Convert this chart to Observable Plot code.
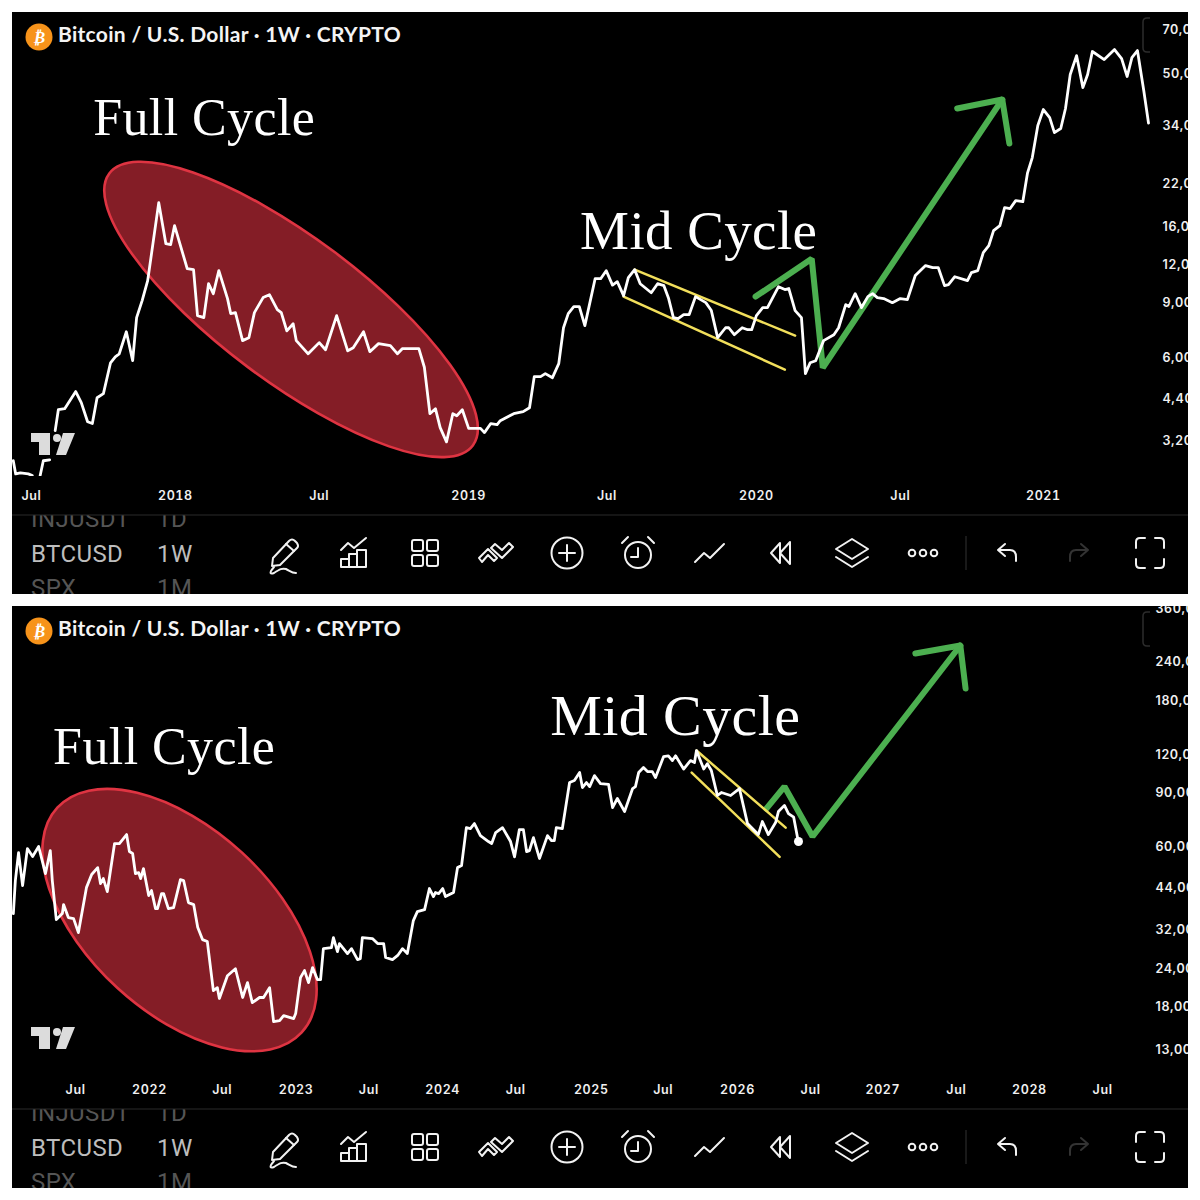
<!DOCTYPE html>
<html><head><meta charset="utf-8">
<script src="https://cdn.jsdelivr.net/npm/d3@7"></script>
<script src="https://cdn.jsdelivr.net/npm/@observablehq/plot@0.6"></script>
<style>
html,body{margin:0;padding:0;background:#fff;width:1200px;height:1200px;overflow:hidden}
.panel{position:absolute;left:12px;width:1176px;height:582px;background:#000}
.big text{letter-spacing:.4px}
.ax text{letter-spacing:.6px}
</style></head><body>
<div id="top" class="panel" style="top:12px"></div>
<div id="bottom" class="panel" style="top:606px"></div>
<script>
// ---- top panel: Jul 2017 – early 2021 (days since 2017-07-01, USD) ----
const topStart = "2017-07-01";
const topDays = [-23,-20,-14,-4,1,6,11,15,23,26,30,34,42,56,63,71,77,83,91,100,106,111,120,128,133,140,147,161,170,176,181,197,205,210,218,224,230,237,248,252,258,267,275,282,293,301,311,316,323,331,335,350,364,372,386,400,407,420,428,439,454,463,469,490,497,504,511,517,525,533,538,545,553,568,573,581,589,593,610,622,630,636,644,650,659,667,673,679,686,693,700,713,720,727,735,741,749,755,763,770,784,792,800,806,812,818,825,832,840,853,860,868,878,882,889,899,906,911,917,925,931,945,953,958,966,974,979,985,992,1002,1015,1021,1030,1034,1042,1050,1058,1064,1070,1078,1089,1099,1108,1118,1131,1140,1147,1155,1160,1168,1184,1189,1197,1204,1211,1217,1225,1231,1238,1245,1254,1260,1266,1273,1280,1288,1294,1302,1308,1314,1322,1330,1336,1342,1357,1370,1379,1386,1392,1399,1407,1413];
const topPrices = [2770,2510,2530,2510,2480,null,2480,2770,2790,null,3470,4060,4090,4650,4280,3710,3660,4440,4580,5770,6035,6170,7280,5860,8090,9190,10670,19140,14080,13970,16120,11680,11590,8210,8090,10430,9680,11500,9330,8340,8400,6810,6960,8400,9400,9610,8590,8400,7330,7730,6810,6170,6710,6360,8210,6310,6456,7280,6270,6660,6560,6170,6410,6410,5580,3940,4090,3550,3190,3940,3880,4060,3530,3530,3420,3660,3630,3740,3940,4000,4120,5200,5200,5320,5160,5730,7500,8340,8790,8790,7620,10830,10830,11500,10320,10590,9540,10910,11590,10430,9750,10430,10280,9330,8090,8030,8280,8280,9470,9050,8530,6960,7500,7500,7120,7500,7390,7390,8210,8720,8720,10200,9980,10060,8530,8090,5320,5770,5860,6810,7120,7500,8920,8790,9680,8720,9470,9680,9400,9330,9050,9330,9260,11090,11950,11770,11770,10280,10360,10990,10670,11330,11500,13160,13880,15520,16120,18450,18310,19430,19280,23930,26830,34100,38440,36200,32350,33340,38730,50000,57580,45300,50000,59360,55900,60260,56320,49230,56740,59810,44320,34750];
const topDomainDays = [-24,1463.6];
const topDomainPrices = [1017.3,79507];
const topTickDates = ["2017-07-01","2017-12-30","2018-06-30","2019-01-05","2019-06-29","2020-01-04","2020-07-04","2021-01-01"];
const topTickLabels = ["Jul","2018","Jul","2019","Jul","2020","Jul","2021"];
const topPriceTicks = [70000,50000,34000,22000,16000,12000,9000,6000,4400,3200];
const topYellowA = [[763,11590],[966,7070]];
const topYellowB = [[749,9470],[953,5480]];
const topGreen = [[916,9470],[987,12580],[1001,5560],[1228,41430]];
const topHead = [[1171,38730],[1228,41430],[1237,29800]];
const topEllipse = {day:329,price:8570,a:227,b:72,rot:36.8};
const topFull = {day:78,price:31850};
const topMid = {day:694,price:13560};

// ---- bottom panel: 2021 – 2028 (days since 2022-01-01, USD) ----
const botStart = "2022-01-01";
const botDays = [-339,-334,-326,-316,-304,-291,-276,-259,-247,-242,-232,-217,-214,-202,-189,-177,-157,-144,-129,-122,-115,-105,-87,-75,-57,-50,-42,-35,-27,-22,-15,-2,5,15,20,30,35,47,60,77,85,97,110,120,132,144,159,169,174,194,214,232,244,256,274,284,299,309,324,334,359,364,376,386,396,406,418,426,433,453,458,468,473,493,503,518,525,530,555,568,583,588,605,618,630,642,657,667,685,697,707,712,720,730,737,757,767,777,789,799,809,824,844,852,862,879,899,909,921,931,939,946,956,971,991,1001,1008,1013,1028,1046,1058,1071,1078,1088,1096,1108,1123,1143,1153,1165,1183,1203,1210,1218,1230,1240,1252,1260,1280,1292,1302,1310,1330,1347,1357,1362,1380,1389,1399,1414,1424,1447,1469,1489,1516,1526,1541,1559,1566,1581,1591,1604,1614];
const botPrices = [36330,46570,57490,44850,59240,55800,60140,49090,58360,46570,34730,36330,38880,35250,34990,31490,44160,48730,51330,45520,47280,42880,61520,61520,65800,57920,57060,49090,49460,47280,50970,41600,43200,37720,37720,42240,42240,37720,38000,46920,46570,39470,38880,32770,29880,29440,20360,20820,19190,22760,24000,19330,21620,18600,19330,19330,20820,16130,16250,16870,16500,17130,22450,23670,21620,24200,22120,22120,27920,28130,30340,27310,29000,26900,27920,25710,25900,30340,30110,29000,29000,26110,25710,26520,27920,26900,34470,36890,37440,43860,41290,42560,42240,43860,41290,42560,51330,52110,69340,68860,71490,65300,62450,61520,66820,69340,62450,55660,68330,68330,57920,58360,64340,55000,65300,62920,62920,69340,68860,97330,98800,104950,93700,97330,94400,102500,96600,96000,80650,86300,78260,93000,94400,104900,108900,105700,105700,101000,118250,119000,114800,119000,107700,114800,113100,123800,107700,112100,106500,88300,90300,88300,93000,71490,65800,72590,65800,72050,78260,81960,77080,75000,63870];
const botLast = [1616,62450];
const botDomainDays = [-341.1,2587.1];
const botDomainPrices = [4598,365660];
const botTickDates = ["2021-07-01","2022-01-01","2022-07-01","2023-01-01","2023-07-01","2024-01-01","2024-07-01","2025-01-05","2025-07-03","2026-01-04","2026-07-05","2027-01-01","2027-07-03","2028-01-01","2028-07-01"];
const botTickLabels = ["Jul","2022","Jul","2023","Jul","2024","Jul","2025","Jul","2026","Jul","2027","Jul","2028","Jul"];
const botPriceTicks = [360000,240000,180000,120000,90000,60000,44000,32000,24000,18000,13000];
const botYellowA = [[1362,123800],[1584,69340]];
const botYellowB = [[1350,104900],[1569,55660]];
const botGreen = [[1536,80000],[1581,94400],[1651,64880],[2019,272700]];
const botHead = [[1907,256800],[2019,272700],[2032,197400]];
const botEllipse = {day:76,price:34470,a:166,b:92,rot:42.6};
const botFull = {day:-240,price:112200};
const botMid = {day:998,price:139650};

const titleText = "Bitcoin / U.S. Dollar · 1W · CRYPTO";
const rowNames = ["INJUSDT","BTCUSD","SPX"];
const rowFrames = ["1D","1W","1M"];

const COL = {white:"#ffffff",green:"#4caf50",yellow:"#f2df5b",fill:"#841d26",edge:"#df3442"};

// chrome of the TradingView screen: coordinates are those of the top panel on the page
function chrome(){
  const ico=(cx,body,extra="")=>`<g transform="translate(${cx},553)" fill="none" stroke="#f2f2f2" stroke-width="2" stroke-linejoin="round" stroke-linecap="round" ${extra}>${body}</g>`;
  const t=(x,y,s,size,fill,w=400,fam="Roboto")=>`<text x="${x}" y="${y}" text-anchor="start" font-family="${fam}" font-size="${size}" font-weight="${w}" letter-spacing=".4" fill="${fill}">${s}</text>`;
  return `
  <circle cx="39" cy="37" r="13.5" fill="#f7931a"/>
  <text x="39" y="43" text-anchor="middle" font-family="DejaVu Sans" font-size="17" font-weight="700" font-style="italic" fill="#fff">₿</text>
  <text x="58" y="42" text-anchor="start" font-family="Lato" font-size="21" font-weight="700" letter-spacing=".3" fill="#f4f4f4">${titleText}</text>
  <path d="M1150,18H1147Q1143,18 1143,22V48Q1143,52 1147,52H1150" fill="none" stroke="#2c2c2c" stroke-width="1.5"/>
  <g fill="#dcdcdc"><path d="M31,433H50V455H39V442H31Z"/><circle cx="57" cy="438" r="4"/><path d="M63,433H75L66,455H56Z"/></g>
  ${t(31,527,rowNames[0],24,"#555")}${t(157,527,rowFrames[0],24,"#555")}
  <rect x="0" y="476" width="1200" height="39" fill="#000"/>
  <line x1="0" x2="1200" y1="515" y2="515" stroke="#2b2b2b" stroke-width="1.2"/>
  ${t(31,562,rowNames[1],24,"#bdbdbd")}${t(157,562,rowFrames[1],24,"#bdbdbd")}
  ${t(31,596,rowNames[2],24,"#555")}${t(157,596,rowFrames[2],24,"#555")}
  ${ico(284,`<path d="M-11,5L5,-12Q8,-15 11,-12L13,-10Q15,-7 13,-5L-4,12L-12,13Z"/><path d="M2,-9L10,-2"/><path d="M-10,15C-16,22 -13,22 -10,21C-4,17 -2,16 2,17C6,19 8,21 12,21" transform="translate(0,-1)"/>`)}
  ${ico(354,`<path d="M-13,14V6H-5V14ZM-5,14V1H3V14ZM3,14V-3H12V14ZM-13,14H12"/><path d="M-13,-3L-6,-10L0,-5L12,-15"/>`)}
  ${ico(425,`<rect x="-13" y="-13" width="11" height="11" rx="2"/><rect x="2" y="-13" width="11" height="11" rx="2"/><rect x="-13" y="2" width="11" height="11" rx="2"/><rect x="2" y="2" width="11" height="11" rx="2"/>`)}
  ${ico(496,`<path d="M-17,5L-8,-4L1,5L-2,8L-8,2L-14,9Z"/><path d="M-5,-5L-1,-9L6,-3L13,-10L17,-6L6,5Z"/>`)}
  ${ico(567,`<circle r="15.5"/><path d="M-8,0H8M0,-8V8"/>`)}
  ${ico(638,`<circle cy="2" r="13"/><path d="M0,-5V4H-7M-16,-10L-10,-16M16,-10L10,-16"/>`)}
  ${ico(710,`<path d="M-15,9L-6,0L0,5L14,-9"/>`)}
  ${ico(781,`<path d="M-10,0L-1,-10V10ZM-1,0L9,-11V11Z"/>`)}
  ${ico(852,`<path d="M0,-14L16,-4L0,6L-16,-4ZM-16,4L0,14L16,4"/>`)}
  ${ico(923,`<circle cx="-11" r="3.3"/><circle r="3.3"/><circle cx="11" r="3.3"/>`)}
  <line x1="966" x2="966" y1="536" y2="570" stroke="#2b2b2b" stroke-width="1.2"/>
  ${ico(1007,`<path d="M-2,-9L-9,-3L-2,3M-9,-3H3Q9,-3 9,4V8"/>`)}
  ${ico(1079,`<path d="M2,-9L9,-3L2,3M9,-3H-3Q-9,-3 -9,4V8"/>`,'style="stroke:#333"')}
  ${ico(1150,`<path d="M-14,-5V-11Q-14,-15 -10,-15H-5M5,-15H10Q14,-15 14,-11V-5M14,6V11Q14,15 10,15H5M-5,15H-10Q-14,15 -14,11V6"/>`)}
  `;
}

function panel(sel,cfg){
  const base=new Date(cfg.start+"T00:00:00Z").getTime();
  const D=d=>new Date(base+d*864e5);
  const pts=cfg.days.map((d,i)=>({date:D(d),price:cfg.prices[i]}));
  const seg=a=>a.map(([d,p])=>({date:D(d),price:p}));
  const tickDates=cfg.tickDates.map(s=>new Date(s+"T00:00:00Z"));
  const tickName=new Map(tickDates.map((d,i)=>[+d,cfg.tickLabels[i]]));
  const e=cfg.ellipse;
  const ln=(a,o)=>Plot.line(seg(a),{x:"date",y:"price",...o});
  const fmt=d3.format(",");
  const chart=Plot.plot({
    width:1176,height:582,
    marginLeft:0,marginRight:0,marginTop:0,marginBottom:0,
    style:{background:"#000",color:"#fff",fontFamily:"Inter",fontSize:"12.5px",fontWeight:"600"},
    x:{type:"utc",domain:cfg.domainDays.map(D),range:[0,1176]},
    y:{type:"log",domain:cfg.domainPrices,range:[582,0],axis:null},
    marks:[
      (i,{x,y})=>{const cx=x(D(e.day)),cy=y(e.price);
        return d3.create("svg:ellipse").attr("cx",cx).attr("cy",cy).attr("rx",e.a).attr("ry",e.b)
          .attr("transform",`rotate(${e.rot},${cx},${cy})`).attr("fill",COL.fill).attr("stroke",COL.edge).attr("stroke-width",2.6).node();},
      ln(cfg.green,{stroke:COL.green,strokeWidth:6,strokeLinejoin:"miter",strokeLinecap:"round"}),
      ln(cfg.head,{stroke:COL.green,strokeWidth:6,strokeLinejoin:"miter",strokeLinecap:"round"}),
      ln(cfg.yellowA,{stroke:COL.yellow,strokeWidth:2.5}),
      ln(cfg.yellowB,{stroke:COL.yellow,strokeWidth:2.5}),
      Plot.line(pts,{x:"date",y:"price",stroke:COL.white,strokeWidth:2.8,strokeLinejoin:"round"}),
      ...(cfg.last?[Plot.dot([{date:D(cfg.last[0]),price:cfg.last[1]}],{x:"date",y:"price",r:4.5,fill:COL.white})]:[]),
      ()=>d3.create("svg:g").attr("transform","translate(-12,-12)").html(chrome()).node(),
      Plot.text(["Full Cycle"],{x:D(cfg.full.day),y:cfg.full.price,text:d=>d,textAnchor:"start",lineAnchor:"bottom",fontSize:52,fontFamily:"Liberation Serif",fontWeight:400,fill:"#fff",className:"big"}),
      Plot.text(["Mid Cycle"],{x:D(cfg.mid.day),y:cfg.mid.price,text:d=>d,textAnchor:"start",lineAnchor:"bottom",fontSize:cfg.midSize,fontFamily:"Liberation Serif",fontWeight:400,fill:"#fff",className:"big"}),
      Plot.axisX({anchor:"bottom",ticks:tickDates,tickFormat:d=>tickName.get(+d),tickSize:0,tickPadding:0,dy:-103,label:null,color:"#f0f0f0",className:"ax"}),
      Plot.text(cfg.priceTicks,{y:d=>d,text:d=>fmt(d),frameAnchor:"right",textAnchor:"start",dx:cfg.ylabelDx,fill:"#f0f0f0",className:"ax"})
    ]
  });
  document.querySelector(sel).appendChild(chart);
}

panel("#top",{start:topStart,days:topDays,prices:topPrices,domainDays:topDomainDays,domainPrices:topDomainPrices,tickDates:topTickDates,tickLabels:topTickLabels,priceTicks:topPriceTicks,yellowA:topYellowA,yellowB:topYellowB,green:topGreen,head:topHead,ellipse:topEllipse,full:topFull,mid:topMid,midSize:55,ylabelDx:-26});
panel("#bottom",{start:botStart,days:botDays,prices:botPrices,last:botLast,domainDays:botDomainDays,domainPrices:botDomainPrices,tickDates:botTickDates,tickLabels:botTickLabels,priceTicks:botPriceTicks,yellowA:botYellowA,yellowB:botYellowB,green:botGreen,head:botHead,ellipse:botEllipse,full:botFull,mid:botMid,midSize:58,ylabelDx:-33});
</script>
</body></html>
